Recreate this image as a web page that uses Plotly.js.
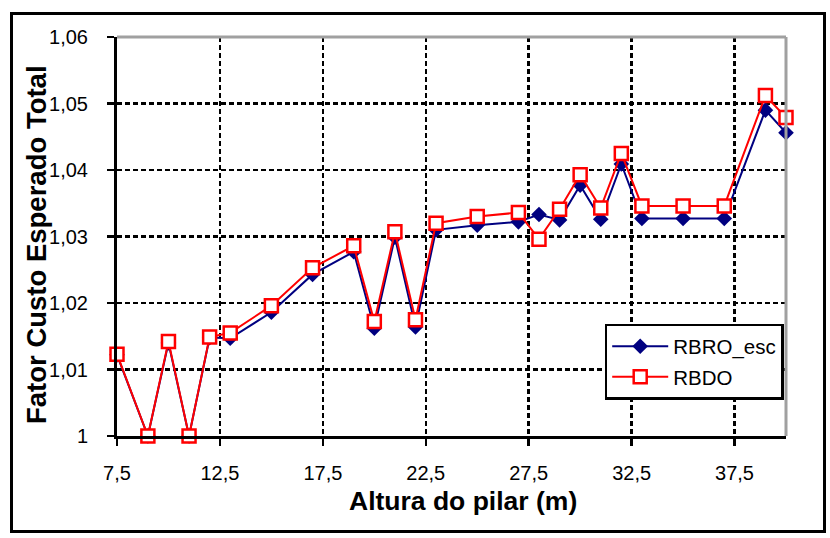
<!DOCTYPE html>
<html><head><meta charset="utf-8">
<script src="https://cdn.plot.ly/plotly-3.0.1.min.js"></script>
<style>html,body{margin:0;padding:0;background:#fff}#frame{position:absolute;left:10px;top:12px;width:816px;height:521px;border:3px solid #000;box-sizing:border-box}#chart{position:absolute;left:0;top:0;width:830px;height:538px}</style>
</head><body>
<div id="frame"></div>
<div id="chart"></div>
<script>
const alturas = [7.5, 9, 10, 11, 12, 13, 15, 17, 19, 20, 21, 22, 23, 25, 27, 28, 29, 30, 31, 32, 33, 35, 37, 39, 40];
const rbroEsc = [1.0122, 1.0, 1.0140, 1.0, 1.0148, 1.0147, 1.0186, 1.0243, 1.0277, 1.0162, 1.0299, 1.0164, 1.0310, 1.0317, 1.0322, 1.0333, 1.0325, 1.0377, 1.0326, 1.0409, 1.0327, 1.0327, 1.0327, 1.0490, 1.0456];
const rbdo = [1.0123, 1.0, 1.0142, 1.0, 1.0149, 1.0155, 1.0196, 1.0253, 1.0286, 1.0172, 1.0307, 1.0175, 1.0320, 1.0330, 1.0336, 1.0296, 1.0341, 1.0393, 1.0343, 1.0425, 1.0346, 1.0346, 1.0346, 1.0512, 1.0479];
const xTickVals = [7.5, 12.5, 17.5, 22.5, 27.5, 32.5, 37.5];
const xTickText = ['7,5', '12,5', '17,5', '22,5', '27,5', '32,5', '37,5'];
const yTickVals = [1, 1.01, 1.02, 1.03, 1.04, 1.05, 1.06];
const yTickText = ['1', '1,01', '1,02', '1,03', '1,04', '1,05', '1,06'];
const xTitle = 'Altura do pilar (m)';
const yTitle = 'Fator Custo Esperado Total';

const fam = 'Liberation Sans, Arial, sans-serif';
const traces = [
  {x: alturas, y: rbroEsc, name: 'RBRO_esc', mode: 'lines+markers', legendgroup: 'a', cliponaxis: false,
   line: {color: '#000080', width: 2},
   marker: {symbol: 'diamond', size: 12, color: '#000080'}},
  {x: alturas, y: rbdo, name: 'RBDO', mode: 'lines+markers', legendgroup: 'b', cliponaxis: false,
   line: {color: '#ff0000', width: 2},
   marker: {symbol: 'square', size: 13, color: '#ffffff', line: {width: 2.5, color: '#ff0000'}}}
];
const layout = {
  width: 830, height: 538,
  margin: {l: 117, r: 44, t: 37, b: 102},
  paper_bgcolor: 'rgba(0,0,0,0)', plot_bgcolor: '#fff',
  font: {family: fam, color: '#000'},
  showlegend: true,
  legend: {x: 0.729, y: 0.281, xanchor: 'left', yanchor: 'top',
    bgcolor: '#fff', bordercolor: '#000', borderwidth: 2.5,
    font: {family: fam, size: 20.5, color: '#000'},
    tracegroupgap: 1, itemwidth: 56},
  xaxis: {range: [7.5, 40], tickvals: xTickVals, ticktext: xTickText,
    showgrid: true, gridcolor: '#000', gridwidth: 2.5, griddash: '5px,3px',
    showline: true, linecolor: '#000', linewidth: 3,
    ticks: 'outside', ticklen: 7, tickwidth: 2.5, tickcolor: '#000',
    ticklabelstandoff: 10,
    tickfont: {family: fam, size: 20, color: '#000'},
    zeroline: false},
  yaxis: {range: [1, 1.06], tickvals: yTickVals, ticktext: yTickText,
    showgrid: true, gridcolor: '#000', gridwidth: 2.5, griddash: '5px,3px',
    showline: true, linecolor: '#000', linewidth: 3,
    ticks: 'outside', ticklen: 7, tickwidth: 2.5, tickcolor: '#000',
    ticklabelstandoff: 15,
    tickfont: {family: fam, size: 20, color: '#000'},
    zeroline: false},
  annotations: [
    {text: xTitle, xref: 'paper', yref: 'paper', x: (463 - 117) / 669, y: -(501 - 436) / 399,
     xanchor: 'center', yanchor: 'middle', showarrow: false,
     font: {family: fam, size: 26.5, color: '#000', weight: 'bold'}},
    {text: yTitle, xref: 'paper', yref: 'paper', x: -(117 - 36) / 669, y: (436 - 245) / 399,
     xanchor: 'center', yanchor: 'middle', showarrow: false, textangle: -90,
     font: {family: fam, size: 27.5, color: '#000', weight: 'bold'}}
  ],
  shapes: [
    {type: 'line', xref: 'paper', yref: 'paper', x0: 0, x1: 1, y0: 1, y1: 1, line: {color: '#a0a0a0', width: 3}},
    {type: 'line', xref: 'paper', yref: 'paper', x0: 1, x1: 1, y0: 0, y1: 1, line: {color: '#a0a0a0', width: 3}}
  ]
};
Plotly.newPlot('chart', traces, layout, {displayModeBar: false, staticPlot: true});
</script>
</body></html>
